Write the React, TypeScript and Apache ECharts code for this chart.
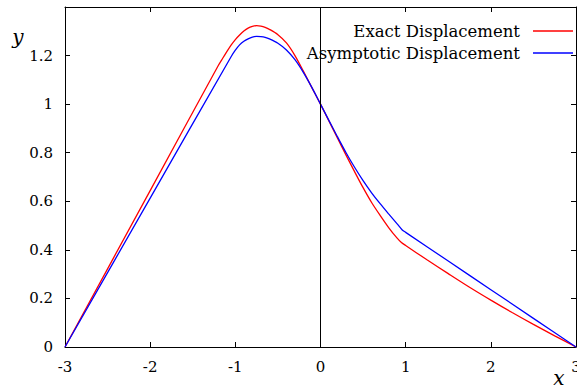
import React, { useEffect, useRef } from "react";
import * as echarts from "echarts";

// Exact displacement profile (red)
const exactX = [-3, -2, -1.2, -1.15, -1.1, -1.05, -1.0, -0.95, -0.9, -0.85, -0.8, -0.75, -0.7, -0.65, -0.6, -0.5, -0.4, -0.3, -0.2, -0.1, 0, 0.1, 0.2, 0.3, 0.4, 0.5, 0.6, 0.7, 0.8, 0.9, 0.95, 1.0, 1.25, 1.5, 1.75, 2.0, 2.25, 2.5, 2.75, 3.0];
const exactY = [0, 0.644, 1.159, 1.188, 1.216, 1.243, 1.266, 1.285, 1.301, 1.313, 1.32, 1.323, 1.321, 1.316, 1.308, 1.286, 1.252, 1.2, 1.135, 1.067, 1.0, 0.93, 0.86, 0.79, 0.722, 0.656, 0.595, 0.542, 0.492, 0.448, 0.43, 0.418, 0.359, 0.302, 0.246, 0.193, 0.142, 0.093, 0.046, 0];

// Asymptotic displacement profile (blue)
const asymX = [-3, -2, -1.05, -1.0, -0.95, -0.9, -0.85, -0.8, -0.75, -0.7, -0.65, -0.6, -0.5, -0.4, -0.3, -0.2, -0.1, 0, 0.1, 0.2, 0.3, 0.4, 0.5, 0.6, 0.7, 0.8, 0.9, 0.96, 1.0, 1.5, 2.0, 2.5, 3.0];
const asymY = [0, 0.613, 1.195, 1.222, 1.244, 1.259, 1.269, 1.276, 1.279, 1.278, 1.275, 1.269, 1.251, 1.223, 1.183, 1.13, 1.068, 1.0, 0.932, 0.865, 0.8, 0.74, 0.685, 0.635, 0.59, 0.548, 0.507, 0.482, 0.472, 0.354, 0.236, 0.118, 0];

const seriesNames = ["Exact Displacement", "Asymptotic Displacement"];
const seriesColors = ["#ff0000", "#0000ff"];

const FONT = "DejaVu Serif";

const pairs = (xs: number[], ys: number[]) => xs.map((x, i) => [x, ys[i]]);

export default function App() {
  const ref = useRef<HTMLDivElement>(null);

  useEffect(() => {
    if (!ref.current) return;
    const chart = echarts.init(ref.current, null, { renderer: "svg" });

    const tickStyle = { show: true, inside: true, length: 5, lineStyle: { color: "#000", width: 1 } };
    const lineStyle = { show: true, onZero: false, lineStyle: { color: "#000", width: 1 } };
    const labelStyle = { fontFamily: FONT, fontSize: 15, color: "#000" };

    chart.setOption({
      animation: false,
      backgroundColor: "#fff",
      grid: { left: 65, right: 1, top: 7, bottom: 42, containLabel: false, outerBoundsMode: "none" },
      xAxis: [
        {
          type: "value",
          min: -3,
          max: 3,
          interval: 1,
          position: "bottom",
          axisLine: lineStyle,
          axisTick: tickStyle,
          splitLine: { show: false },
          axisLabel: { ...labelStyle, margin: 12 },
        },
        {
          type: "value",
          min: -3,
          max: 3,
          interval: 1,
          position: "top",
          axisLine: lineStyle,
          axisTick: tickStyle,
          splitLine: { show: false },
          axisLabel: { show: false },
        },
      ],
      yAxis: [
        {
          type: "value",
          min: 0,
          max: 1.4,
          interval: 0.2,
          position: "left",
          axisLine: lineStyle,
          axisTick: tickStyle,
          splitLine: { show: false },
          axisLabel: {
            ...labelStyle,
            margin: 12,
            formatter: (v: number) => (v > 1.3 ? "" : String(Math.round(v * 10) / 10)),
          },
        },
        {
          type: "value",
          min: 0,
          max: 1.4,
          interval: 0.2,
          position: "right",
          axisLine: lineStyle,
          axisTick: tickStyle,
          splitLine: { show: false },
          axisLabel: { show: false },
        },
      ],
      series: [
        {
          name: seriesNames[0],
          type: "line",
          data: pairs(exactX, exactY),
          showSymbol: false,
          smooth: 0.3,
          lineStyle: { color: seriesColors[0], width: 1.3 },
          itemStyle: { color: seriesColors[0] },
          z: 3,
          markLine: {
            silent: true,
            symbol: "none",
            label: { show: false },
            lineStyle: { color: "#000", width: 1, type: "solid" },
            data: [{ xAxis: 0 }],
          },
        },
        {
          name: seriesNames[1],
          type: "line",
          data: pairs(asymX, asymY),
          showSymbol: false,
          smooth: 0.3,
          lineStyle: { color: seriesColors[1], width: 1.3 },
          itemStyle: { color: seriesColors[1] },
          z: 4,
        },
      ],
      graphic: [
        {
          type: "text",
          x: 18,
          y: 37,
          style: { text: "y", font: `italic 20px ${FONT}`, fill: "#000", align: "center", verticalAlign: "middle" },
        },
        {
          type: "text",
          x: 559,
          y: 378,
          style: { text: "x", font: `italic 20px ${FONT}`, fill: "#000", align: "center", verticalAlign: "middle" },
        },
        ...seriesNames.flatMap((name, i) => {
          const yy = 31 + i * 22;
          return [
            {
              type: "text",
              x: 520,
              y: yy,
              z: 10,
              style: { text: name, font: `16.5px ${FONT}`, fill: "#000", align: "right", verticalAlign: "middle" },
            },
            {
              type: "line",
              z: 10,
              shape: { x1: 533, y1: yy, x2: 573, y2: yy },
              style: { stroke: seriesColors[i], lineWidth: 1.3 },
            },
          ];
        }),
      ],
    });

    return () => chart.dispose();
  }, []);

  return (
    <div
      ref={ref}
      style={{ position: "fixed", left: 0, top: 0, width: 577, height: 389, background: "#fff" }}
    />
  );
}
